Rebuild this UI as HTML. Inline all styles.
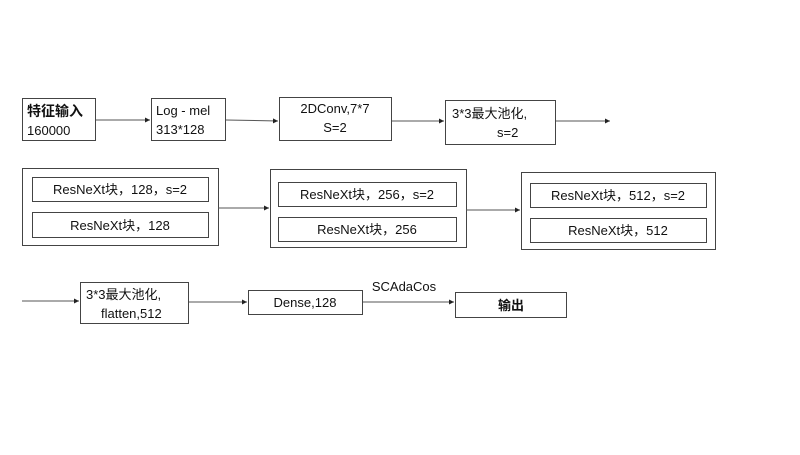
<!DOCTYPE html>
<html><head><meta charset="utf-8"><style>
html,body{margin:0;padding:0;background:#fff;}
text{font-family:"Liberation Sans","Noto Sans CJK SC",sans-serif;font-size:13px;fill:#111;}
</style></head><body>
<svg width="800" height="450" xmlns="http://www.w3.org/2000/svg">
<defs><marker id="a" markerWidth="6" markerHeight="6" refX="5" refY="3" orient="auto"><path d="M0,0.5 L5,3 L0,5.5z" fill="#222"/></marker></defs>
<g fill="#fff" stroke="#444" stroke-width="1">
<rect x="22.5" y="98.5" width="73" height="42"/>
<rect x="151.5" y="98.5" width="74" height="42"/>
<rect x="279.5" y="97.5" width="112" height="43"/>
<rect x="445.5" y="100.5" width="110" height="44"/>
<rect x="22.5" y="168.5" width="196" height="77"/>
<rect x="32.5" y="177.5" width="176" height="24"/>
<rect x="32.5" y="212.5" width="176" height="25"/>
<rect x="270.5" y="169.5" width="196" height="78"/>
<rect x="278.5" y="182.5" width="178" height="24"/>
<rect x="278.5" y="217.5" width="178" height="24"/>
<rect x="521.5" y="172.5" width="194" height="77"/>
<rect x="530.5" y="183.5" width="176" height="24"/>
<rect x="530.5" y="218.5" width="176" height="24"/>
<rect x="80.5" y="282.5" width="108" height="41"/>
<rect x="248.5" y="290.5" width="114" height="24"/>
<rect x="455.5" y="292.5" width="111" height="25"/>
</g>
<g stroke="#555" stroke-width="1" marker-end="url(#a)">
<line x1="96" y1="120" x2="150" y2="120"/>
<line x1="226" y1="120" x2="278" y2="121"/>
<line x1="392" y1="121" x2="444" y2="121"/>
<line x1="556" y1="121" x2="610" y2="121"/>
<line x1="218" y1="208" x2="269" y2="208"/>
<line x1="466" y1="210" x2="520" y2="210"/>
<line x1="22" y1="301" x2="79" y2="301"/>
<line x1="189" y1="302" x2="247" y2="302"/>
<line x1="363" y1="302" x2="454" y2="302"/>
</g>
<text x="27" y="116" style="font-weight:bold;font-size:14px">特征输入</text>
<text x="27" y="135">160000</text>
<text x="156" y="115">Log - mel</text>
<text x="156" y="134">313*128</text>
<text x="335" y="113" text-anchor="middle">2DConv,7*7</text>
<text x="335" y="132" text-anchor="middle">S=2</text>
<text x="452" y="118">3*3最大池化,</text>
<text x="497" y="137">s=2</text>
<text x="120" y="194" text-anchor="middle">ResNeXt块，128，s=2</text>
<text x="120" y="230" text-anchor="middle">ResNeXt块，128</text>
<text x="367" y="199" text-anchor="middle">ResNeXt块，256，s=2</text>
<text x="367" y="234" text-anchor="middle">ResNeXt块，256</text>
<text x="618" y="200" text-anchor="middle">ResNeXt块，512，s=2</text>
<text x="618" y="235" text-anchor="middle">ResNeXt块，512</text>
<text x="86" y="299">3*3最大池化,</text>
<text x="101" y="318">flatten,512</text>
<text x="305" y="307" text-anchor="middle">Dense,128</text>
<text x="404" y="291" text-anchor="middle">SCAdaCos</text>
<text x="511" y="310" text-anchor="middle" style="font-weight:bold">输出</text>
</svg>
</body></html>
